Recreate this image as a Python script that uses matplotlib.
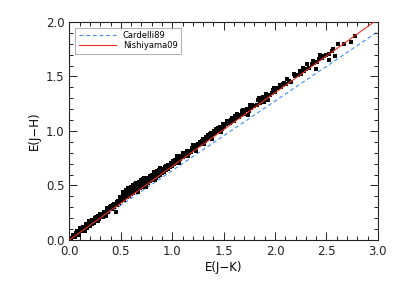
import numpy as np
import matplotlib.pyplot as plt
from matplotlib.ticker import MultipleLocator

# colour excess ratios E(J-H)/E(J-K) of the two extinction laws
ratio_cardelli = 0.637
ratio_nishiyama = 0.675
line_x = [0.0, 3.0]

# observed stars, E(J-K) and E(J-H)
ejk = [0.02, 0.04, 0.05, 0.06, 0.08, 0.09, 0.10, 0.11, 0.12, 0.13, 0.14, 0.15, 0.16, 0.17, 0.18,
       0.19, 0.20, 0.21, 0.22, 0.23, 0.24, 0.25, 0.26, 0.27, 0.28, 0.29, 0.30, 0.31, 0.32, 0.33,
       0.34, 0.35, 0.36, 0.37, 0.38, 0.39, 0.40, 0.41, 0.42, 0.43, 0.44, 0.45, 0.46, 0.47, 0.48,
       0.49, 0.50, 0.45, 0.28, 0.15, 0.33,
       0.52, 0.53, 0.55, 0.56, 0.57, 0.58, 0.59, 0.60, 0.61, 0.62, 0.63, 0.64, 0.65, 0.66, 0.67,
       0.68, 0.69, 0.70, 0.71, 0.72, 0.73, 0.74, 0.75, 0.76, 0.77, 0.78, 0.79, 0.80, 0.81, 0.82,
       0.83, 0.84, 0.85, 0.86, 0.87, 0.88, 0.89, 0.90, 0.91, 0.92, 0.93, 0.94, 0.95, 0.96, 0.97,
       0.98, 0.99, 1.00, 0.55, 0.60, 0.65, 0.70, 0.62, 0.75, 0.80, 0.85, 0.68, 0.58, 0.72,
       1.02, 1.04, 1.06, 1.08, 1.10, 1.12, 1.14, 1.16, 1.18, 1.20, 1.22, 1.24, 1.26, 1.28, 1.30,
       1.32, 1.34, 1.36, 1.38, 1.40, 1.42, 1.44, 1.46, 1.48, 1.50, 1.03, 1.07, 1.11, 1.15, 1.19,
       1.23, 1.27, 1.31, 1.35, 1.39, 1.43, 1.47,
       1.52, 1.55, 1.57, 1.60, 1.62, 1.65, 1.67, 1.70, 1.72, 1.75, 1.77, 1.80, 1.82, 1.85, 1.87,
       1.90, 1.92, 1.95, 1.97, 2.00, 1.63, 1.74, 1.84, 1.93,
       2.03, 2.06, 2.08, 2.11, 2.14, 2.16, 2.19, 2.22, 2.25, 2.28, 2.30, 2.33, 2.36, 2.38, 2.41,
       2.43, 2.46, 2.48, 2.52, 2.40, 2.50, 2.52, 2.55, 2.56, 2.58, 2.61, 2.67, 2.74, 2.78,
       0.03, 0.07, 0.10, 0.13, 0.16, 0.19, 0.22, 0.25, 0.28, 0.31, 0.34, 0.37, 0.40, 0.43, 0.46,
       0.49, 0.51, 0.54, 0.57, 0.60, 0.63, 0.66, 0.69, 0.72, 0.75, 0.78, 0.81, 0.84, 0.87, 0.90,
       0.93, 0.96, 0.99, 1.01, 1.05, 1.09, 1.13, 1.17, 1.21, 1.25, 1.29, 1.33, 1.37, 1.41, 1.45,
       1.49, 1.53, 1.58, 1.64, 1.69, 1.78, 1.88, 1.98, 0.36, 0.52, 0.57, 0.64, 0.73, 0.78, 0.82,
       0.88, 0.94, 1.05, 1.10, 1.20, 0.67, 0.74, 0.83, 0.92,
       1.06, 1.14, 1.22, 1.30, 1.38, 1.46, 1.54, 1.61, 1.68, 1.76, 1.83, 1.91, 1.99, 2.05, 2.12,
       2.18, 2.24, 2.31, 2.37, 2.44, 0.26, 0.30, 0.39, 0.42, 0.47, 1.56, 1.73, 1.89, 2.09, 2.27]
ejh = [0.02, 0.04, 0.03, 0.06, 0.07, 0.05, 0.09, 0.08, 0.10, 0.12, 0.09, 0.12, 0.13, 0.11, 0.14,
       0.15, 0.13, 0.16, 0.15, 0.17, 0.16, 0.18, 0.17, 0.19, 0.20, 0.19, 0.21, 0.22, 0.21, 0.23,
       0.24, 0.25, 0.24, 0.27, 0.26, 0.28, 0.29, 0.28, 0.31, 0.30, 0.32, 0.33, 0.32, 0.35, 0.34,
       0.37, 0.36, 0.26, 0.17, 0.08, 0.21,
       0.40, 0.37, 0.42, 0.39, 0.44, 0.40, 0.46, 0.42, 0.47, 0.43, 0.45, 0.49, 0.45, 0.48, 0.46,
       0.50, 0.48, 0.52, 0.49, 0.51, 0.53, 0.51, 0.54, 0.52, 0.55, 0.54, 0.56, 0.55, 0.58, 0.56,
       0.59, 0.57, 0.60, 0.59, 0.62, 0.60, 0.62, 0.61, 0.64, 0.63, 0.65, 0.64, 0.66, 0.65, 0.68,
       0.67, 0.69, 0.68, 0.46, 0.49, 0.52, 0.55, 0.50, 0.57, 0.60, 0.63, 0.53, 0.47, 0.56,
       0.70, 0.71, 0.73, 0.74, 0.76, 0.77, 0.79, 0.80, 0.81, 0.83, 0.84, 0.86, 0.87, 0.88, 0.90,
       0.91, 0.93, 0.94, 0.95, 0.97, 0.98, 1.00, 1.01, 1.02, 1.04, 0.73, 0.71, 0.79, 0.77, 0.84,
       0.82, 0.90, 0.88, 0.96, 0.93, 1.02, 0.99,
       1.06, 1.07, 1.10, 1.09, 1.12, 1.13, 1.15, 1.16, 1.19, 1.18, 1.21, 1.23, 1.24, 1.26, 1.29,
       1.29, 1.31, 1.33, 1.35, 1.36, 1.16, 1.15, 1.30, 1.28,
       1.39, 1.40, 1.43, 1.43, 1.46, 1.45, 1.50, 1.51, 1.52, 1.55, 1.57, 1.58, 1.61, 1.62, 1.63,
       1.66, 1.67, 1.69, 1.65, 1.57, 1.70, 1.71, 1.73, 1.75, 1.69, 1.80, 1.80, 1.82, 1.87,
       0.05, 0.08, 0.11, 0.10, 0.15, 0.17, 0.18, 0.20, 0.22, 0.24, 0.26, 0.29, 0.31, 0.33, 0.35,
       0.39, 0.38, 0.41, 0.41, 0.44, 0.47, 0.50, 0.51, 0.54, 0.55, 0.57, 0.60, 0.61, 0.64, 0.65,
       0.67, 0.69, 0.71, 0.72, 0.75, 0.77, 0.80, 0.82, 0.86, 0.88, 0.91, 0.94, 0.97, 1.00, 1.03,
       1.06, 1.09, 1.12, 1.14, 1.19, 1.24, 1.31, 1.38, 0.22, 0.44, 0.48, 0.51, 0.57, 0.59, 0.62,
       0.66, 0.68, 0.77, 0.80, 0.87, 0.44, 0.49, 0.55, 0.62,
       0.76, 0.82, 0.87, 0.93, 0.98, 1.04, 1.09, 1.14, 1.18, 1.24, 1.28, 1.34, 1.39, 1.42, 1.48,
       1.52, 1.55, 1.61, 1.64, 1.70, 0.21, 0.24, 0.30, 0.32, 0.36, 1.07, 1.20, 1.27, 1.44, 1.58]

fig = plt.figure(figsize=(3.99, 2.85), dpi=100)
ax = fig.add_axes([0.174, 0.158, 0.773, 0.765])

ax.plot(ejk, ejh, 's', color='black', markersize=2.3, markeredgewidth=0, zorder=2)

lx = np.array(line_x)
ax.plot(lx, ratio_cardelli * lx, '--', color='#3d8ef5', linewidth=0.8, dashes=(3.5, 2.5),
        label='Cardelli89', zorder=1)
ax.plot(lx, ratio_nishiyama * lx, '-', color='#f03020', linewidth=0.8,
        label='Nishiyama09', zorder=3)

ax.set_xlim(0, 3.0)
ax.set_ylim(0, 2.0)
ax.xaxis.set_major_locator(MultipleLocator(0.5))
ax.xaxis.set_minor_locator(MultipleLocator(0.1))
ax.yaxis.set_major_locator(MultipleLocator(0.5))
ax.yaxis.set_minor_locator(MultipleLocator(0.1))
ax.tick_params(which='both', direction='in', top=True, right=True, labelsize=8.5,
               width=0.7, colors='#222222')
ax.tick_params(which='major', length=6)
ax.tick_params(which='minor', length=3)
ax.xaxis.set_major_formatter(plt.FormatStrFormatter('%.1f'))
ax.yaxis.set_major_formatter(plt.FormatStrFormatter('%.1f'))
for s in ax.spines.values():
    s.set_linewidth(0.8)
    s.set_color('#222222')

ax.set_xlabel('E(J\u2212K)', fontsize=8.5, labelpad=2)
ax.set_ylabel('E(J\u2212H)', fontsize=8.5, labelpad=4)

leg = ax.legend(loc='upper left', fontsize=6, frameon=True, fancybox=False,
                borderpad=0.4, handlelength=4.5, labelspacing=0.15, borderaxespad=0.7)
leg.get_frame().set_edgecolor('#999999')
leg.get_frame().set_linewidth(0.7)

fig.savefig('out.png', dpi=100)
